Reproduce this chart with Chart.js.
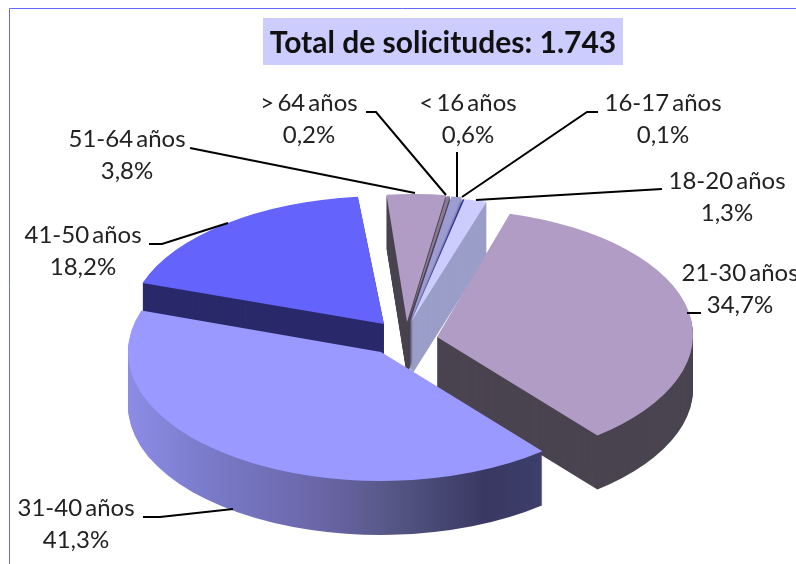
<!DOCTYPE html>
<html>
<head>
<meta charset="utf-8">
<style>
  html, body { margin: 0; padding: 0; background: #fff; }
  canvas { display: block; }
</style>
<script src="https://cdn.jsdelivr.net/npm/chart.js@4"></script>
</head>
<body>
<canvas id="pieChart" width="796" height="564"></canvas>
<script>
const categories = ['< 16 años', '16-17 años', '18-20 años', '21-30 años', '31-40 años', '41-50 años', '51-64 años', '> 64 años'];
const percents = [0.6, 0.1, 1.3, 34.7, 41.3, 18.2, 3.8, 0.2];
const titleText = 'Total de solicitudes: 1.743';

// slice look
const topColors = ['#9c9cd2', '#333399', '#ccccff', '#b09cc4', '#9999ff', '#6464fc', '#b09cc4', '#8a7a96'];
const wallColors = ['#8484b4', '#27276f', '#9a9ec8', '#4a4450', null, '#29296b', '#4a4450', '#4a4450'];

// 3d look: how far each slice is pulled out of the pie and how it is squashed
const pieX = 412, pieY = 340, depth = 54;
const baseRadius = 270;
const shiftX = [-2, -1, -1, 25, -31, -28, -5, -4];
const shiftY = [-18, -18, -18, -3, 12, -16, -18, -18];
const radiusX = [280, 280, 280, 256, 253, 255, 250, 285];
const radiusY = [127, 125, 125, 128, 129, 128, 128, 127];
const shearX = [0, 0, 0, -0.03, 0, 0, -0.04, 0];
const drawOrder = [5, 6, 7, 0, 1, 2, 3, 4];

// label layout, same order as categories
const labelX = [468, 663, 727, 740, 76, 83, 127, 309];
const labelY = [103, 103, 181, 273, 508, 235, 139, 103];
const leaders = [
  [[457, 152], [457, 197]],
  [[598, 112], [587, 112], [462, 197]],
  [[662, 189], [476, 200]],
  [[701, 313], [687, 313]],
  [[143, 517], [160, 517], [233, 509]],
  [[149, 244], [162, 244], [228, 223]],
  [[190, 148], [415, 193]],
  [[366, 112], [376, 112], [446, 195]]
];

function placeSlice(ctx, arc, i, drop) {
  ctx.translate(pieX + shiftX[i], pieY + shiftY[i] + drop);
  ctx.transform(1, 0, shearX[i], 1, 0, 0);
  ctx.scale(radiusX[i] / baseRadius, radiusY[i] / baseRadius);
  ctx.translate(-arc.x, -arc.y);
}

function wallFill(ctx, arc, i) {
  if (wallColors[i]) return wallColors[i];
  const grad = ctx.createLinearGradient(arc.x - baseRadius, 0, arc.x + 175, 0);
  grad.addColorStop(0, '#8c8ce6');
  grad.addColorStop(0.22, '#7878c6');
  grad.addColorStop(0.46, '#6a66a8');
  grad.addColorStop(0.62, '#585888');
  grad.addColorStop(0.86, '#383862');
  grad.addColorStop(1, '#3e3e6c');
  return grad;
}

const exploded3d = {
  id: 'exploded3d',
  beforeDraw(chart) {
    const ctx = chart.ctx;
    ctx.save();
    ctx.fillStyle = '#fff';
    ctx.fillRect(0, 0, chart.width, chart.height);
    ctx.strokeStyle = '#6666ff';
    ctx.lineWidth = 1;
    ctx.beginPath();
    ctx.moveTo(9.5, chart.height);
    ctx.lineTo(9.5, 8.5);
    ctx.lineTo(chart.width, 8.5);
    ctx.stroke();
    ctx.restore();
  },
  beforeDatasetDraw(chart, args) {
    const ctx = chart.ctx;
    const arcs = args.meta.data;
    drawOrder.forEach(i => {
      const arc = arcs[i];
      const wall = Object.create(arc);
      wall.options = Object.assign({}, arc.options, { backgroundColor: wallFill(ctx, arc, i) });
      for (let drop = depth; drop > 0; drop--) {
        ctx.save();
        placeSlice(ctx, arc, i, drop);
        wall.draw(ctx);
        ctx.restore();
      }
      ctx.save();
      placeSlice(ctx, arc, i, 0);
      arc.draw(ctx);
      ctx.restore();
    });
    return false;
  },
  afterDraw(chart) {
    const ctx = chart.ctx;
    ctx.save();
    // title box
    ctx.fillStyle = '#ccccff';
    ctx.fillRect(263, 18, 360, 47);
    ctx.fillStyle = '#111';
    ctx.textAlign = 'center';
    ctx.textBaseline = 'middle';
    ctx.font = 'bold 30px Lato';
    ctx.fillText(titleText, 443, 43);
    // leader lines
    ctx.strokeStyle = '#000';
    ctx.lineWidth = 2;
    leaders.forEach(points => {
      ctx.beginPath();
      points.forEach((p, n) => n ? ctx.lineTo(p[0], p[1]) : ctx.moveTo(p[0], p[1]));
      ctx.stroke();
    });
    // labels
    ctx.fillStyle = '#222';
    ctx.font = '24px Lato';
    ctx.wordSpacing = '-3px';
    categories.forEach((name, i) => {
      ctx.fillText(name, labelX[i], labelY[i]);
      ctx.fillText(percents[i].toFixed(1).replace('.', ',') + '%', labelX[i], labelY[i] + 32);
    });
    ctx.restore();
  }
};

new Chart(document.getElementById('pieChart').getContext('2d'), {
  type: 'pie',
  data: {
    labels: categories,
    datasets: [{
      data: percents,
      backgroundColor: topColors,
      borderWidth: 0,
      clip: false
    }]
  },
  options: {
    responsive: false,
    animation: false,
    rotation: 8.5,
    radius: baseRadius,
    plugins: {
      legend: { display: false },
      tooltip: { enabled: false }
    }
  },
  plugins: [exploded3d]
});
</script>
</body>
</html>
